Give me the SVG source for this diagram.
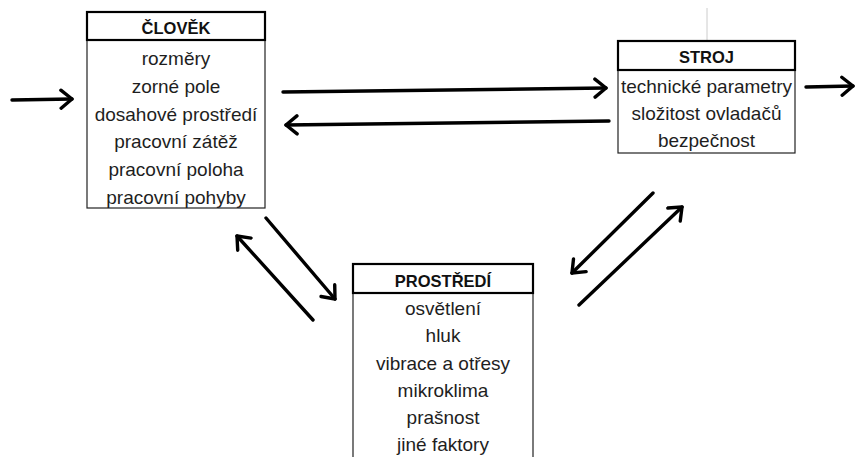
<svg xmlns="http://www.w3.org/2000/svg" width="856" height="457" viewBox="0 0 856 457">
<defs>
<marker id="ah" markerUnits="userSpaceOnUse" markerWidth="22" markerHeight="22" refX="13" refY="11" orient="auto">
<path d="M2,2 L13,11 L2,20" fill="none" stroke="#000" stroke-width="3.4" stroke-linecap="round" stroke-linejoin="round"/>
</marker>
<style>
.hdr{fill:#fff;stroke:#000;stroke-width:2.2}
.body{fill:#fff;stroke:#222;stroke-width:1.2}
.ht{font-family:"Liberation Sans",Arial,sans-serif;font-weight:bold;font-size:16.5px;fill:#111;text-anchor:middle}
.t{font-family:"Liberation Sans",Arial,sans-serif;font-size:19px;fill:#1e1e1e;text-anchor:middle}
.c{stroke:#000;stroke-width:3.4;fill:none;stroke-linecap:round;marker-end:url(#ah)}
</style>
</defs>
<rect width="856" height="457" fill="#fff"/>
<line x1="707" y1="8" x2="707" y2="41" stroke="#ccc" stroke-width="1"/>
<g id="clovek">
<rect class="body" x="87" y="40" width="178" height="168"/>
<rect class="hdr" x="87" y="12" width="178" height="28"/>
<text class="ht" x="176" y="34">ČLOVĚK</text>
<text class="t" x="176" y="65">rozměry</text>
<text class="t" x="176" y="92.5">zorné pole</text>
<text class="t" x="176" y="120.5">dosahové prostředí</text>
<text class="t" x="176" y="148">pracovní zátěž</text>
<text class="t" x="176" y="176">pracovní poloha</text>
<text class="t" x="176" y="203.5">pracovní pohyby</text>
</g>
<g id="stroj">
<rect class="body" x="618" y="70" width="177" height="83"/>
<rect class="hdr" x="618" y="41" width="177" height="29"/>
<text class="ht" x="706.5" y="63">STROJ</text>
<text class="t" x="706.5" y="93">technické parametry</text>
<text class="t" x="706.5" y="120">složitost ovladačů</text>
<text class="t" x="706.5" y="147">bezpečnost</text>
</g>
<g id="prostredi">
<rect class="body" x="353" y="293" width="180" height="180"/>
<rect class="hdr" x="353" y="264" width="180" height="29"/>
<text class="ht" x="443" y="287">PROSTŘEDÍ</text>
<text class="t" x="443" y="315">osvětlení</text>
<text class="t" x="443" y="342">hluk</text>
<text class="t" x="443" y="370">vibrace a otřesy</text>
<text class="t" x="443" y="397">mikroklima</text>
<text class="t" x="443" y="424">prašnost</text>
<text class="t" x="443" y="451">jiné faktory</text>
</g>
<g id="connectors">
<line class="c" x1="12" y1="100" x2="72" y2="99"/>
<line class="c" x1="283" y1="92" x2="606" y2="88"/>
<line class="c" x1="609" y1="121" x2="286" y2="125"/>
<line class="c" x1="806" y1="87" x2="853" y2="86"/>
<line class="c" x1="266" y1="218" x2="335" y2="299"/>
<line class="c" x1="313" y1="320" x2="237" y2="236"/>
<line class="c" x1="653" y1="193" x2="572" y2="273"/>
<line class="c" x1="579" y1="305" x2="682" y2="207"/>
</g>
</svg>
